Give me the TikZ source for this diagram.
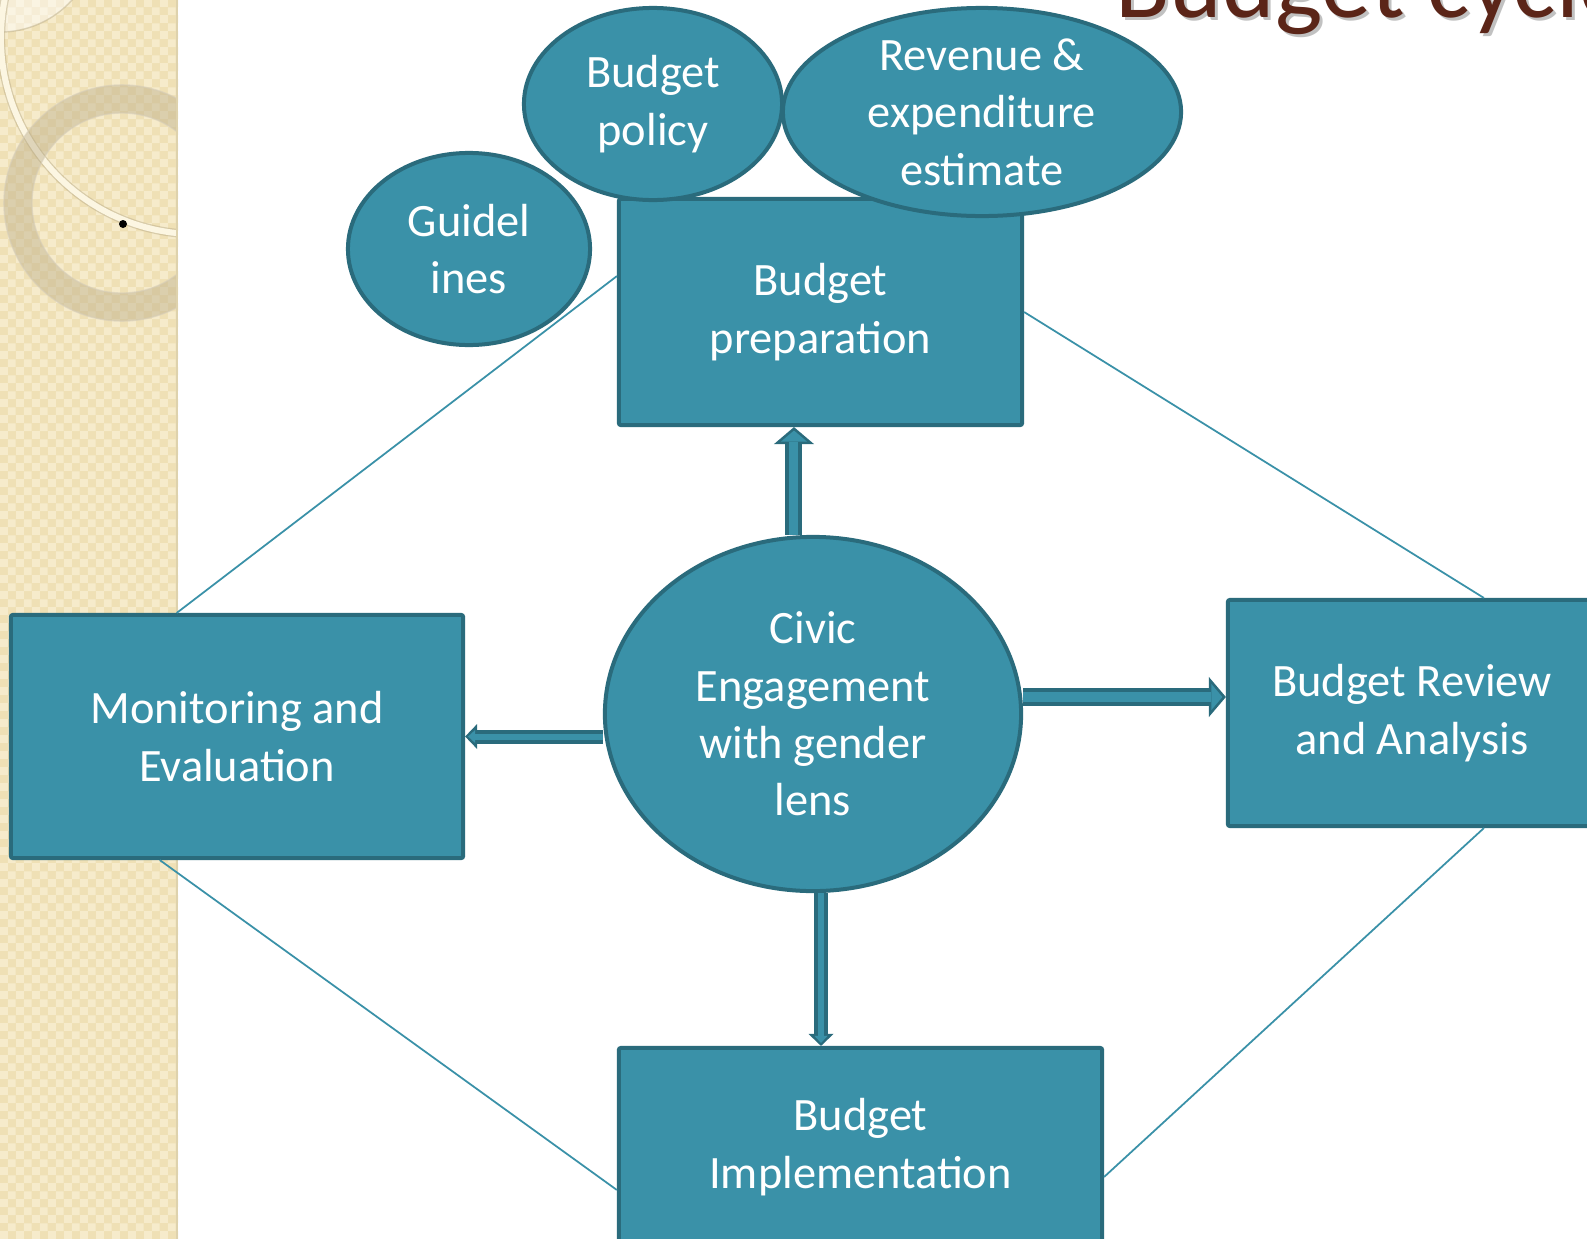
\documentclass[tikz,border=0pt]{standalone}
\usepackage{fontspec}
\setmainfont{Carlito}
\usetikzlibrary{arrows.meta, shapes.geometric, patterns}
\definecolor{boxFill}{HTML}{3A91A8}
\definecolor{boxLine}{HTML}{2A6B7C}
\definecolor{linkLine}{HTML}{3A91A8}
\definecolor{titleBrown}{HTML}{5B2518}
\definecolor{paper}{HTML}{EFE0B5}
\definecolor{paperLight}{HTML}{F6EBCB}
\definecolor{ringTan}{HTML}{BCAE8A}
\definecolor{ringCream}{HTML}{FCF6E2}

% small checked weave for the side strip
\pgfdeclarepatternformonly{weave}{\pgfqpoint{0pt}{0pt}}{\pgfqpoint{4.5pt}{4.5pt}}{\pgfqpoint{4.5pt}{4.5pt}}{%
  \pgfpathrectangle{\pgfqpoint{0pt}{0pt}}{\pgfqpoint{2.25pt}{2.25pt}}%
  \pgfpathrectangle{\pgfqpoint{2.25pt}{2.25pt}}{\pgfqpoint{2.25pt}{2.25pt}}%
  \pgfusepath{fill}}

\begin{document}
\begin{tikzpicture}[
  x=0.01cm, y=-0.01cm,
  font=\fontsize{13.2}{16.3}\selectfont,
  stage/.style={draw=boxLine, fill=boxFill, line width=0.04cm, rounded corners=0.02cm,
    text=white, align=center},
  bubble/.style={ellipse, draw=boxLine, fill=boxFill, line width=0.04cm},
  words/.style={text=white, align=center, inner sep=0pt},
  link/.style={linkLine, line width=0.5pt},
  bigarrow/.style={boxLine, line width=0.17cm,
    -{Triangle[width=0.40cm, length=0.17cm, line width=0pt]},
    postaction={draw=boxFill, line width=0.09cm,
      -{Triangle[width=0.26cm, length=0.11cm, line width=0pt]}, shorten >=0.035cm}},
  smallarrow/.style={boxLine, line width=0.14cm,
    -{Triangle[width=0.25cm, length=0.12cm, line width=0pt]},
    postaction={draw=boxFill, line width=0.06cm,
      -{Triangle[width=0.13cm, length=0.07cm, line width=0pt]}, shorten >=0.03cm}}
]

\useasboundingbox (0,0) rectangle (1587,1239);
\clip (0,0) rectangle (1587,1239);
\fill[white] (0,0) rectangle (1587,1239);

% ---------------------------------------------------------
% side strip
% ---------------------------------------------------------
\fill[paper] (0,0) rectangle (178,1239);
\fill[pattern=weave, pattern color=paperLight] (0,0) rectangle (178,1239);

\begin{scope}
  \clip (0,0) rectangle (177,1239);
  \fill[white, opacity=0.45] (0,-65) circle (0.97cm);
  \draw[ringTan, opacity=0.5, line width=0.4pt] (0,-65) circle (0.97cm);
  % cream ring
  \draw[ringTan, opacity=0.5, line width=0.085cm] (197,38) circle (1.96cm);
  \draw[ringCream, line width=0.06cm] (197,38) circle (1.96cm);
  % tan ring
  \draw[ringTan, opacity=0.45, line width=0.28cm] (122,203) circle (1.04cm);
  \draw[ringTan!60!white, opacity=0.6, line width=0.4pt] (122,203) circle (1.18cm);
  \draw[ringTan!60!white, opacity=0.6, line width=0.4pt] (122,203) circle (0.90cm);
  \fill[black] (123,224) circle (0.04cm);
\end{scope}
\draw[paper!85!gray, line width=0.025cm] (177,0) -- (177,1239);

% ---------------------------------------------------------
% title
% ---------------------------------------------------------
\node[black!40, opacity=0.6, anchor=base west, font=\fontsize{28.5}{30}\selectfont]
  (cycleShade) at (1106,20) {Budget cycle};
\node[titleBrown, anchor=base west, font=\fontsize{28.5}{30}\selectfont]
  (cycleTitle) at (1103,17) {Budget cycle};

% ---------------------------------------------------------
% stages
% ---------------------------------------------------------
\node[stage, minimum width=4.03cm, minimum height=2.26cm] (prep) at (820.5,312)
  {Budget\\preparation};

\node[bubble, minimum width=2.42cm, minimum height=1.92cm] (guide) at (469,249) {};
\node[words] (guideTxt) at (guide) {Guidel\\ines};

\node[bubble, minimum width=2.58cm, minimum height=1.92cm] (policy) at (653,104) {};
\node[words] (policyTxt) at (policy) {Budget\\policy};

\node[bubble, minimum width=3.98cm, minimum height=2.08cm] (estimate) at (982,112) {};
\node[words] (estimateTxt) at (estimate) {Revenue \&\\expenditure\\estimate};

\node[stage, minimum width=4.52cm, minimum height=2.43cm] (mon) at (237,736.5)
  {Monitoring and\\Evaluation};

\node[stage, minimum width=3.68cm, minimum height=2.26cm] (rev) at (1412,713)
  {Budget Review\\and Analysis};

\node[stage, minimum width=4.83cm, minimum height=1.98cm] (impl) at (860.5,1147)
  {Budget\\Implementation};

\node[bubble, minimum width=4.16cm, minimum height=3.54cm] (civic) at (813,714) {};
\node[words] (civicTxt) at (civic) {Civic\\Engagement\\with gender\\lens};

% ---------------------------------------------------------
% cycle links
% ---------------------------------------------------------
\draw[link] (mon.116) -- (prep.170);
\draw[link] (prep.east) -- (rev.58);
\draw[link] (rev.-58) -- (impl.-7.5);
\draw[link] (impl.190) -- (mon.238);

% ---------------------------------------------------------
% arrows out of the centre
% ---------------------------------------------------------
\coordinate (upFoot) at ([xshift=-0.19cm]civic.north);
\draw[bigarrow] (upFoot) -- (upFoot |- prep.south);

\coordinate (rightFoot) at ([yshift=0.17cm]civic.east);
\draw[bigarrow] (rightFoot) -- (rightFoot -| rev.west);

\draw[smallarrow] (mon.east -| civic.west) -- (mon.east);

\coordinate (downFoot) at ([xshift=0.08cm]civic.south);
\draw[smallarrow] (downFoot) -- (downFoot |- impl.north);

\end{tikzpicture}
\end{document}
